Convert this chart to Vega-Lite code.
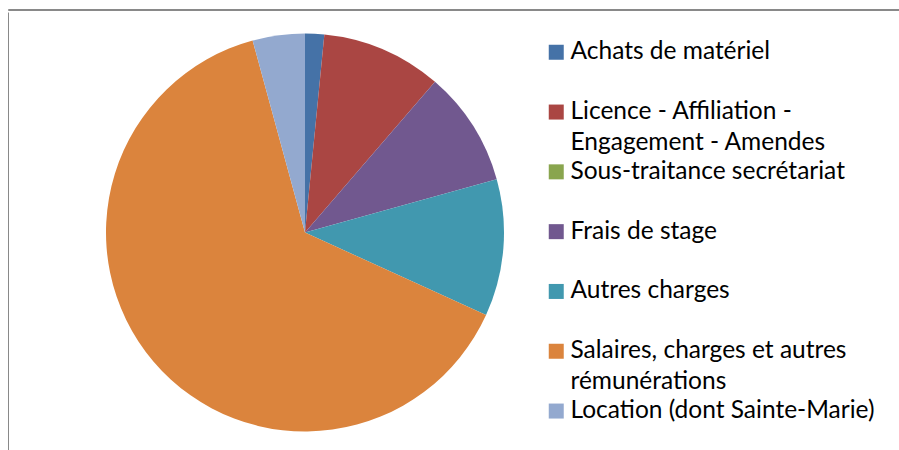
{
  "$schema": "https://vega.github.io/schema/vega-lite/v6.json",
  "padding": {"left": 7, "top": 8, "right": 0, "bottom": 0},
  "background": "white",
  "spacing": 0,
  "vconcat": [
    {
      "width": 895,
      "height": 1,
      "view": {"stroke": "#898989", "strokeWidth": 1},
      "data": {"values": []},
      "mark": {"type": "point", "opacity": 0},
      "encoding": {}
    },
    {
      "width": 594,
      "height": 441,
      "view": {"stroke": "#898989", "strokeWidth": 1, "strokeDash": [0, 1629, 441]},
      "data": {
        "values": [
          {"ordre": 1, "poste": "Achats de matériel", "valeur": 1.55},
          {"ordre": 2, "poste": "Licence - Affiliation - Engagement - Amendes", "valeur": 9.78},
          {"ordre": 3, "poste": "Sous-traitance secrétariat", "valeur": 0},
          {"ordre": 4, "poste": "Frais de stage", "valeur": 9.35},
          {"ordre": 5, "poste": "Autres charges", "valeur": 11.13},
          {"ordre": 6, "poste": "Salaires, charges et autres rémunérations", "valeur": 63.95},
          {"ordre": 7, "poste": "Location (dont Sainte-Marie)", "valeur": 4.24}
        ]
      },
      "mark": {"type": "arc", "radius": 199},
      "encoding": {
        "theta": {"field": "valeur", "type": "quantitative", "stack": true},
        "order": {"field": "ordre", "type": "quantitative"},
        "color": {
          "field": "poste",
          "type": "nominal",
          "sort": null,
          "scale": {
            "domain": ["Achats de matériel", "Licence - Affiliation - Engagement - Amendes", "Sous-traitance secrétariat", "Frais de stage", "Autres charges", "Salaires, charges et autres rémunérations", "Location (dont Sainte-Marie)"],
            "range": ["#4572A7", "#AA4643", "#89A54E", "#71588F", "#4198AF", "#DB843D", "#93A9CF"]
          },
          "legend": {
            "orient": "none",
            "legendX": 536,
            "legendY": 31,
            "title": null,
            "symbolType": "square",
            "symbolSize": 225,
            "symbolStrokeWidth": 0,
            "symbolOpacity": 1,
            "labelFont": "Lato",
            "labelFontSize": 24.5,
            "labelColor": "#000000",
            "labelLimit": 400,
            "labelOffset": 2,
            "rowPadding": 3.8,
            "padding": 0,
            "labelExpr": "datum.label == 'Licence - Affiliation - Engagement - Amendes' ? ['Licence - Affiliation -', 'Engagement - Amendes'] : datum.label == 'Salaires, charges et autres rémunérations' ? ['Salaires, charges et autres', 'rémunérations'] : [datum.label, '']"
          }
        }
      }
    }
  ],
  "config": {
    "style": {"guide-label": {"lineHeight": 31}}
  }
}
